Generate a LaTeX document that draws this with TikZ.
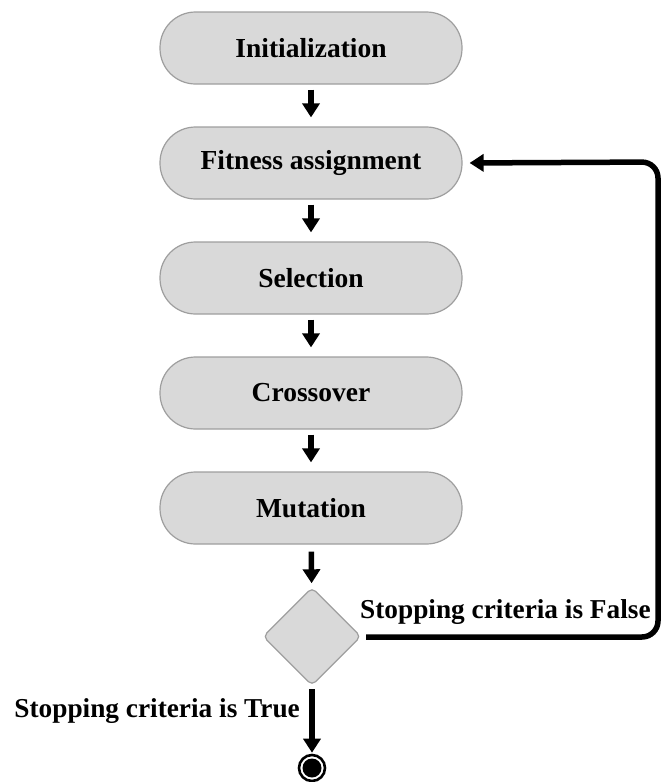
\documentclass[tikz,border=0pt]{standalone}
\usepackage{fontspec}
\setmainfont{Liberation Serif}
\usetikzlibrary{arrows.meta,shapes.geometric}
\tikzset{
  stadium/.style={draw=black!38, line width=1.2pt, fill=black!15, rounded corners=35.5pt,
    minimum width=302pt, minimum height=72pt, inner sep=0pt,
    font=\fontsize{27.5}{31}\selectfont\bfseries},
  decision/.style={diamond, draw=black!38, line width=1.2pt, fill=black!15, rounded corners=5pt,
    minimum width=98pt, minimum height=98pt, inner sep=0pt},
  flow/.style={line width=5.5pt, -{Triangle[length=14pt,width=17pt]}},
  lbl/.style={font=\fontsize{27.3}{31}\selectfont\bfseries, inner sep=0pt},
}
\begin{document}
\begin{tikzpicture}[x=1pt,y=-1pt]
\useasboundingbox (0,0) rectangle (665,782);
\node[stadium] (init) at (311,48) {Initialization};
\node[stadium] (fit) at (311,163) {Fitness assignment};
\node[stadium] (sel) at (311,278) {Selection};
\node[stadium] (cross) at (311,393) {Crossover};
\node[stadium] (mut) at (311,508) {Mutation};
\node[decision] (dec) at (312,636.5) {};
\node[circle, fill=white, draw=black, line width=2.6pt, minimum size=26pt, inner sep=0pt] (end) at (312,768) {};
\fill[black] (end.center) circle (9.5pt);
\draw[flow, shorten <=5pt, shorten >=9pt] (init) -- (fit);
\draw[flow, shorten <=5pt, shorten >=9pt] (fit) -- (sel);
\draw[flow, shorten <=5pt, shorten >=9pt] (sel) -- (cross);
\draw[flow, shorten <=5pt, shorten >=9pt] (cross) -- (mut);
\draw[flow, shorten <=7pt, shorten >=4pt] (mut) -- (dec);
\draw[flow, shorten <=3pt, shorten >=1pt] (dec) -- (end);
\coordinate (fbs) at (366,637);
\coordinate (fbc1) at (658,637);
\coordinate (fbc2) at (658,162);
\draw[flow, rounded corners=16pt, shorten >=7pt] (fbs) -- (fbc1) -- (fbc2) -- (fit.east);
\node[lbl, anchor=west] (lf) at (360,612) {Stopping criteria is False};
\node[lbl, anchor=east] (lt) at (300,711) {Stopping criteria is True};
\end{tikzpicture}
\end{document}
